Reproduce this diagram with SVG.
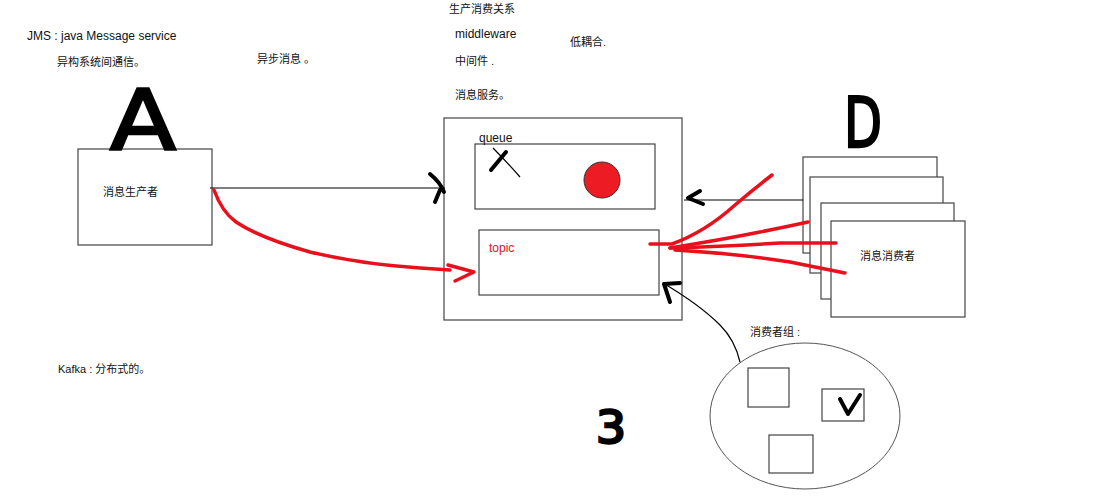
<svg xmlns="http://www.w3.org/2000/svg" width="1097" height="498" viewBox="0 0 1097 498">
<style>
.t{font-family:"Liberation Sans","Noto Sans CJK SC",sans-serif;font-size:12px;fill:#111}
.c{font-family:"Liberation Sans","Noto Sans CJK SC",sans-serif;font-size:11px;fill:#111}
.box{fill:#fff;stroke:#444;stroke-width:1.2}
.red{fill:none;stroke:#e8101c;stroke-width:3.5;stroke-linecap:round;stroke-linejoin:round}
.blk{fill:none;stroke:#000;stroke-width:1.2}
.pen{fill:none;stroke:#000;stroke-width:4;stroke-linecap:round;stroke-linejoin:round}
.hand{font-family:"DejaVu Sans",sans-serif;font-weight:normal;fill:#000;stroke:#000;stroke-width:2.5}
</style>
<rect width="1097" height="498" fill="#fff"/>
<g id="notes">
<text class="t" x="27" y="40">JMS : java Message service</text>
<text class="c" x="57" y="66">异构系统间通信。</text>
<text class="c" x="257" y="63">异步消息 。</text>
<text class="c" x="449" y="13">生产消费关系</text>
<text class="t" x="455" y="38">middleware</text>
<text class="c" x="570" y="46">低耦合.</text>
<text class="c" x="455" y="65">中间件 .</text>
<text class="c" x="455" y="99">消息服务。</text>
<text class="c" x="58" y="373">Kafka : 分布式的。</text>
</g>
<g id="producer">
<rect class="box" x="78" y="149" width="134" height="96"/>
<text class="c" x="103" y="196">消息生产者</text>
<text class="hand" x="110" y="150" font-size="84" textLength="66" lengthAdjust="spacingAndGlyphs">A</text>
</g>
<g id="middleware">
<rect class="box" x="444" y="118" width="238" height="202"/>
<g id="queue">
<rect class="box" x="475" y="144" width="180" height="65"/>
<text class="t" x="479" y="142">queue</text>
<circle cx="602" cy="180" r="18" fill="#ed1c24" stroke="#333" stroke-width="1"/>
<path class="pen" d="M506,152 L491,170" stroke-width="5"/>
<path class="blk" d="M493,148 Q505,160 520,177" stroke-width="1.5"/>
</g>
<g id="topic">
<rect class="box" x="479" y="230" width="180" height="65"/>
<text class="t" x="489" y="252" style="fill:#e8101c">topic</text>
</g>
</g>
<g id="consumers">
<rect class="box" x="803" y="157" width="134" height="96"/>
<rect class="box" x="810" y="177" width="133" height="96"/>
<rect class="box" x="821" y="203" width="133" height="96"/>
<rect class="box" x="831" y="221" width="134" height="96"/>
<text class="c" x="860" y="260">消息消费者</text>
<text class="hand" x="844" y="147" font-size="70" textLength="38" lengthAdjust="spacingAndGlyphs">D</text>
</g>
<g id="group">
<ellipse cx="805" cy="416" rx="95" ry="73" fill="#fff" stroke="#555" stroke-width="1"/>
<text class="c" x="750" y="336">消费者组 :</text>
<rect class="box" x="748" y="368" width="41" height="39"/>
<rect class="box" x="822" y="389" width="42" height="32"/>
<path class="pen" d="M840,399 L848,414 L860,395" stroke-width="4.5"/>
<rect class="box" x="769" y="435" width="44" height="38"/>
</g>
<text class="hand" x="596" y="443" font-size="44" textLength="30" lengthAdjust="spacingAndGlyphs">3</text>
<g id="connectors">
<path class="blk" d="M210,188 L445,188"/>
<path class="pen" d="M430,174 Q440,182 444,192 M440,190 L435,202"/>
<path class="blk" d="M803,200 L684,200"/>
<path class="pen" d="M700,191 L688,198 L703,204" stroke-width="3"/>
<path class="red" d="M214,190 Q222,212 236,222 Q260,238 310,252 Q360,264 420,268 L450,270"/>
<path class="red" d="M448,265 L474,272 L455,281" stroke-width="4"/>
<path class="red" d="M650,244 L672,244 Q705,232 735,205 Q755,188 772,175"/>
<path class="red" d="M670,248 Q720,240 760,232 Q790,226 808,222"/>
<path class="red" d="M670,248 Q730,246 780,243 L836,243"/>
<path class="red" d="M675,250 Q740,254 790,262 Q820,268 845,273"/>
<path class="blk" d="M740,362 Q735,340 720,325 Q700,305 663,283" stroke-width="1.5"/>
<path class="pen" d="M680,283 L664,284 L670,302" stroke-width="3"/>
</g>
</svg>
